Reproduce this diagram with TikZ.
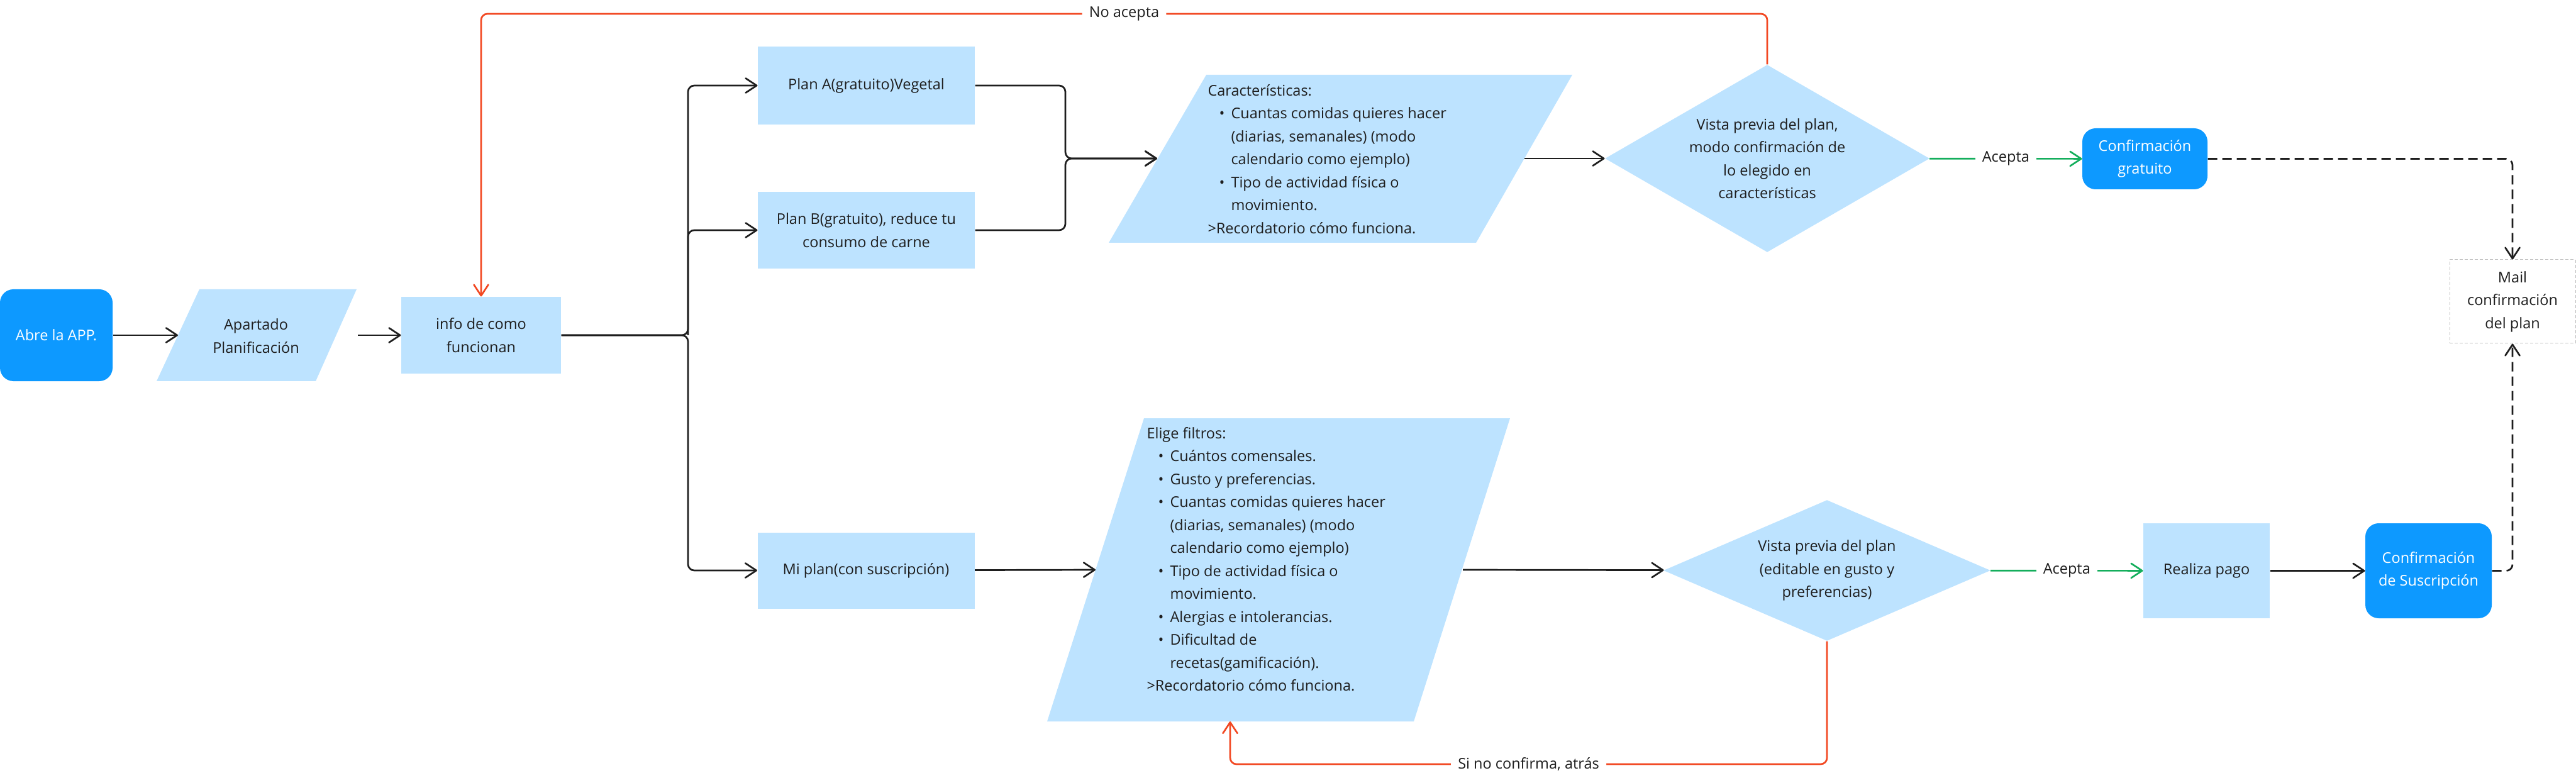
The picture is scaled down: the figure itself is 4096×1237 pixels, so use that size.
\documentclass[tikz,border=0pt]{standalone}
\usepackage{fontspec}
\setmainfont{Open Sans}
\usetikzlibrary{arrows.meta,shapes.geometric,positioning}

\definecolor{pale}{HTML}{BDE3FF}
\definecolor{vivid}{HTML}{0D99FF}
\definecolor{redline}{HTML}{F24822}
\definecolor{greenline}{HTML}{14AE5C}
\definecolor{ink}{HTML}{1E1E1E}

\newcommand{\itm}{\hspace*{7.2pt}\makebox[7.6pt][l]{\textbullet}}
\newcommand{\ind}{\hspace*{14.8pt}}

\tikzset{
	txt/.style={font=\fontsize{9.4}{14.6}\selectfont, text=ink, align=center, inner sep=0pt},
	softbox/.style={txt, rectangle, fill=pale},
	startbox/.style={txt, rectangle, rounded corners=8.5pt, fill=vivid, text=white},
	choice/.style={txt, diamond, fill=pale},
	mailbox/.style={txt, rectangle, fill=white, draw=black!25, line width=0.4pt, dash pattern=on 2pt off 1.2pt},
	flow/.style={draw=ink, line width=1.08pt, -{Straight Barb[length=7pt,width=9.2pt,round]}},
	okflow/.style={flow, draw=greenline},
	backflow/.style={flow, draw=redline},
	mailflow/.style={flow, dash pattern=on 6pt off 3.2pt},
	tag/.style={txt, fill=white, inner xsep=4.5pt, inner ysep=2pt}
}

\begin{document}
\begin{tikzpicture}[x=0.4pt, y=-0.4pt]
	\useasboundingbox (0,0) rectangle (4096,1237);

	% start and general info
	\node[startbox, minimum width=71.6pt, minimum height=58.4pt] (abre) at (89.5,533) {Abre la APP.};

	\fill[pale] (317,460) -- (567,460) -- (502,606) -- (249,606) -- cycle;
	\node[txt] (apartado) at (407,534) {Apartado\\Planificación};
	\coordinate (apL) at (283,533);
	\coordinate (apR) at (569,533);

	\node[softbox, minimum width=101.6pt, minimum height=48.8pt] (info) at (765,533) {info de como\\funcionan};
	\coordinate (split) at (1094,533);

	% the three plans
	\node[softbox, minimum width=138pt, minimum height=49.6pt] (planA) at (1377.5,136) {Plan A(gratuito)Vegetal};
	\node[softbox, minimum width=138pt, minimum height=48.8pt] (planB) at (1377.5,366) {Plan B(gratuito), reduce tu\\consumo de carne};
	\node[softbox, minimum width=138pt, minimum height=48.4pt] (miplan) at (1377,907) {Mi plan(con suscripción)};
	\coordinate (join) at (1694,252);

	% free plans
	\fill[pale] (1918,119) -- (2500,119) -- (2347,386) -- (1763,386) -- cycle;
	\node[txt, align=left, anchor=west] (caract) at (1920,253) {Características:\\
		\itm Cuantas comidas quieres hacer\\
		\ind (diarias, semanales) (modo\\
		\ind calendario como ejemplo)\\
		\itm Tipo de actividad física o\\
		\ind movimiento.\\
		>Recordatorio cómo funciona.};
	\coordinate (caractL) at (1840,252);
	\coordinate (caractR) at (2424,252);

	\node[choice, minimum width=206.4pt, minimum height=119.2pt, shape aspect=1.73] (vista1) at (2810,252) {Vista previa del plan,\\modo confirmación de\\lo elegido en\\características};
	\node[startbox, minimum width=79.6pt, minimum height=38.8pt] (gratis) at (3410.5,252.5) {Confirmación\\gratuito};
	\coordinate (topturn) at (765,22);

	\node[mailbox, minimum width=80pt, minimum height=53.2pt] (mail) at (3995,479.5) {Mail\\confirmación\\del plan};

	% subscription plan
	\fill[pale] (1819,665) -- (2401,665) -- (2248,1147) -- (1665,1147) -- cycle;
	\node[txt, align=left, anchor=west] (filtros) at (1823,889) {Elige filtros:\\
		\itm Cuántos comensales.\\
		\itm Gusto y preferencias.\\
		\itm Cuantas comidas quieres hacer\\
		\ind (diarias, semanales) (modo\\
		\ind calendario como ejemplo)\\
		\itm Tipo de actividad física o\\
		\ind movimiento.\\
		\itm Alergias e intolerancias.\\
		\itm Dificultad de\\
		\ind recetas(gamificación).\\
		>Recordatorio cómo funciona.};
	\coordinate (filtL) at (1742,906);
	\coordinate (filtR) at (2326,906);
	\coordinate (filtB) at (1956,1147);

	\node[choice, minimum width=208pt, minimum height=89.6pt, shape aspect=2.32] (vista2) at (2905,907) {Vista previa del plan\\(editable en gusto y\\preferencias)};
	\node[softbox, minimum width=80.4pt, minimum height=60.4pt] (pago) at (3508.5,907.5) {Realiza pago};
	\node[startbox, minimum width=80.4pt, minimum height=60.4pt] (suscr) at (3861.5,907.5) {Confirmación\\de Suscripción};
	\coordinate (botturn) at (1956,1215);

	% connectors
	\draw[flow] (abre) -- (apL);
	\draw[flow] (apR) -- (info);
	\draw[flow, rounded corners=4pt] (info) -- (split) |- (planA);
	\draw[flow, rounded corners=4pt] (split) |- (planB);
	\draw[flow, rounded corners=4pt] (info) -- (split) |- (miplan);

	\draw[flow, rounded corners=4pt] (planA) -| (join) -- (caractL);
	\draw[flow, rounded corners=4pt] (planB) -| (join) -- (caractL);
	\draw[flow] (caractR) -- (vista1);
	\draw[okflow] (vista1) -- node[tag] {Acepta} (gratis);
	\draw[backflow, rounded corners=4pt] (vista1.north) |- node[tag, pos=0.75] {No acepta} (topturn) -- (info.north);

	\draw[flow] (miplan) -- (filtL);
	\draw[flow] (filtR) -- (vista2);
	\draw[okflow] (vista2) -- node[tag] {Acepta} (pago);
	\draw[flow] (pago) -- (suscr);
	\draw[backflow, rounded corners=4pt] (vista2.south) |- node[tag, pos=0.75] {Si no confirma, atrás} (botturn) -- (filtB);

	\draw[mailflow, rounded corners=4pt] (gratis) -| (mail);
	\draw[mailflow, rounded corners=4pt] (suscr) -| (mail);
\end{tikzpicture}
\end{document}
